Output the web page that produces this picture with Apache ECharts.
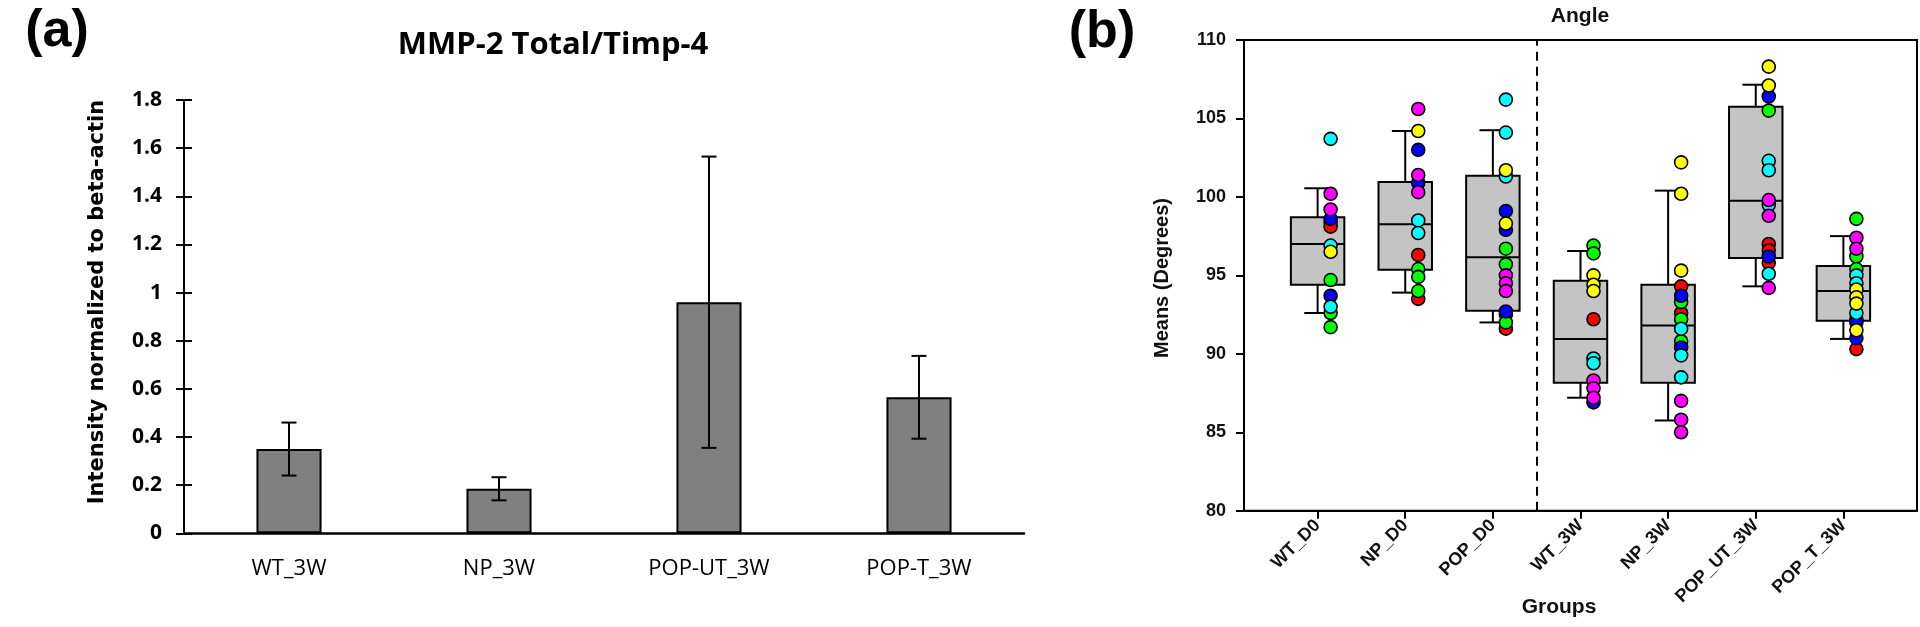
<!DOCTYPE html>
<html>
<head>
<meta charset="utf-8">
<title>MMP-2 Total/Timp-4 and Angle</title>
<script src="https://cdn.jsdelivr.net/npm/echarts@6.0.0/dist/echarts.min.js"></script>
<style>
  html, body { margin: 0; padding: 0; background: #fff; }
  #main { width: 1920px; height: 627px; }
</style>
</head>
<body>
<div id="main"></div>
<script>
// (a) bar chart data
var barGroups = ['WT_3W', 'NP_3W', 'POP-UT_3W', 'POP-T_3W'];
var barMeans = [0.35, 0.185, 0.96, 0.565];
var barErr = [0.11, 0.048, 0.605, 0.172];

// (b) box plot data: [min, q1, median, q3, max]
var boxGroups = ['WT_D0', 'NP_D0', 'POP_D0', 'WT_3W', 'NP_3W', 'POP_UT_3W', 'POP_T_3W'];
var boxStats = [
  [92.6, 94.4, 97.0, 98.7, 100.55],
  [93.9, 95.35, 98.25, 100.95, 104.2],
  [92.0, 92.75, 96.15, 101.35, 104.25],
  [87.2, 88.15, 90.95, 94.65, 96.55],
  [85.75, 88.15, 91.8, 94.4, 100.4],
  [94.3, 96.1, 99.75, 105.75, 107.15],
  [90.95, 92.1, 94.0, 95.6, 97.5]
];

// individual points, [group index, degrees], one list per colour
var redPts = [[0, 98.4], [0, 98.1], [1, 96.3], [1, 93.5], [2, 92.5], [2, 91.6], [3, 92.2],
  [4, 94.3], [4, 92.6], [5, 97.0], [5, 96.6], [5, 95.8], [6, 92.2], [6, 90.3]];
var greenPts = [[0, 94.7], [0, 92.6], [0, 91.7], [1, 95.4], [1, 94.9], [1, 94.0], [2, 96.7], [2, 95.7], [2, 92.0],
  [3, 96.9], [3, 96.4], [4, 93.3], [4, 92.2], [4, 90.8], [5, 105.5], [6, 98.6], [6, 96.2], [6, 95.4]];
var bluePts = [[0, 98.6], [0, 93.7], [1, 103.0], [1, 100.9], [2, 99.1], [2, 97.9], [2, 92.7], [3, 86.9],
  [4, 93.7], [4, 90.4], [5, 106.4], [5, 96.2], [6, 92.0], [6, 91.0]];
var cyanPts = [[0, 103.7], [0, 96.9], [0, 93.0], [1, 98.5], [1, 97.7], [2, 106.2], [2, 104.1], [2, 101.3],
  [3, 89.7], [3, 89.4], [4, 91.6], [4, 89.9], [4, 88.5], [5, 102.3], [5, 101.7], [5, 99.5], [5, 95.1],
  [6, 95.0], [6, 94.5], [6, 92.6]];
var magentaPts = [[0, 100.2], [0, 99.2], [1, 105.6], [1, 101.4], [1, 100.3], [2, 95.0], [2, 94.5], [2, 94.0],
  [3, 88.3], [3, 87.8], [3, 87.2], [4, 87.0], [4, 85.8], [4, 85.0], [5, 99.8], [5, 98.8], [5, 94.2],
  [6, 97.4], [6, 96.7]];
var yellowPts = [[0, 96.5], [1, 104.2], [2, 101.7], [2, 98.3], [3, 95.0], [3, 94.4], [3, 94.0],
  [4, 102.2], [4, 100.2], [4, 95.3], [5, 108.3], [5, 107.1], [6, 94.1], [6, 93.6], [6, 93.2], [6, 91.5]];

var myChart = echarts.init(document.getElementById('main'));

var boldArial = 'Liberation Sans, Arial, sans-serif';
var calibri = 'Open Sans, Noto Sans, sans-serif';

// error bars for the bar chart
function renderErr(params, api) {
  var x = api.value(0);
  var lo = api.coord([x, api.value(1)]);
  var hi = api.coord([x, api.value(2)]);
  var cap = 7.5;
  var st = { stroke: '#000', lineWidth: 2 };
  return {
    type: 'group',
    children: [
      { type: 'line', shape: { x1: lo[0], y1: lo[1], x2: hi[0], y2: hi[1] }, style: st },
      { type: 'line', shape: { x1: lo[0] - cap, y1: lo[1], x2: lo[0] + cap, y2: lo[1] }, style: st },
      { type: 'line', shape: { x1: hi[0] - cap, y1: hi[1], x2: hi[0] + cap, y2: hi[1] }, style: st }
    ]
  };
}

// box + whiskers
function renderBox(params, api) {
  var x = api.value(0);
  var lo = api.coord([x, api.value(1)]);
  var q1 = api.coord([x, api.value(2)]);
  var med = api.coord([x, api.value(3)]);
  var q3 = api.coord([x, api.value(4)]);
  var hi = api.coord([x, api.value(5)]);
  var half = api.size([0.61, 0])[0] / 2;
  var cap = half / 2;
  var st = { stroke: '#000', lineWidth: 2 };
  return {
    type: 'group',
    children: [
      { type: 'line', shape: { x1: lo[0], y1: lo[1], x2: q1[0], y2: q1[1] }, style: st },
      { type: 'line', shape: { x1: q3[0], y1: q3[1], x2: hi[0], y2: hi[1] }, style: st },
      { type: 'line', shape: { x1: lo[0] - cap, y1: lo[1], x2: lo[0] + cap, y2: lo[1] }, style: st },
      { type: 'line', shape: { x1: hi[0] - cap, y1: hi[1], x2: hi[0] + cap, y2: hi[1] }, style: st },
      { type: 'rect', shape: { x: q3[0] - half, y: q3[1], width: half * 2, height: q1[1] - q3[1] },
        style: { fill: '#c4c4c4', stroke: '#000', lineWidth: 2 } },
      { type: 'line', shape: { x1: med[0] - half, y1: med[1], x2: med[0] + half, y2: med[1] }, style: st }
    ]
  };
}

function dots(name, data, color) {
  return {
    name: name,
    type: 'scatter',
    xAxisIndex: 1,
    yAxisIndex: 1,
    data: data,
    symbol: 'circle',
    symbolSize: 13,
    symbolOffset: [13, 0],
    z: 5,
    itemStyle: { color: color, borderColor: '#000', borderWidth: 1.6, opacity: 1 }
  };
}

var groupTicks = boxGroups.map(function (g, i) { return i; });

var option = {
  backgroundColor: '#fff',
  animation: false,
  graphic: [
    { type: 'text', x: 57, y: 32, style: { text: '(a)', font: 'bold 52px ' + boldArial, fill: '#000', align: 'center', verticalAlign: 'middle' } },
    { type: 'text', x: 1102, y: 33, style: { text: '(b)', font: 'bold 52px ' + boldArial, fill: '#000', align: 'center', verticalAlign: 'middle' } },
    { type: 'text', x: 553, y: 45, style: { text: 'MMP-2 Total/Timp-4', font: 'bold 31px ' + calibri, fill: '#000', align: 'center', verticalAlign: 'middle' } },
    { type: 'text', x: 98, y: 302, rotation: Math.PI / 2,
      style: { text: 'Intensity normalized to beta-actin', font: 'bold 21px DejaVu Sans, sans-serif', fill: '#000', align: 'center', verticalAlign: 'middle' } },
    { type: 'text', x: 1580, y: 16, style: { text: 'Angle', font: 'bold 21px ' + boldArial, fill: '#111', align: 'center', verticalAlign: 'middle' } },
    { type: 'text', x: 1162, y: 278, rotation: Math.PI / 2,
      style: { text: 'Means (Degrees)', font: 'bold 20px ' + boldArial, fill: '#111', align: 'center', verticalAlign: 'middle' } },
    { type: 'text', x: 1559, y: 607, style: { text: 'Groups', font: 'bold 21px ' + boldArial, fill: '#111', align: 'center', verticalAlign: 'middle' } }
  ],
  grid: [
    { left: 184, top: 100, width: 840, height: 433.3 },
    { left: 1244, top: 40, width: 673, height: 470.7, show: true, borderColor: '#000', borderWidth: 2, backgroundColor: 'transparent' }
  ],
  xAxis: [
    {
      type: 'category',
      gridIndex: 0,
      data: barGroups,
      boundaryGap: true,
      axisLine: { lineStyle: { color: '#000', width: 2.5 } },
      axisTick: { show: false },
      axisLabel: { color: '#000', fontSize: 22, fontFamily: calibri, margin: 24 }
    },
    {
      type: 'value',
      gridIndex: 1,
      min: -0.84,
      max: 6.84,
      splitLine: { show: false },
      axisLine: { onZero: false, lineStyle: { color: '#000', width: 2 } },
      axisTick: { show: true, customValues: groupTicks, length: 8, lineStyle: { color: '#000', width: 2 } },
      axisLabel: {
        customValues: groupTicks,
        rotate: 45,
        margin: 12,
        color: '#111',
        fontSize: 18,
        fontWeight: 'bold',
        fontFamily: boldArial,
        formatter: function (v) { return boxGroups[Math.round(v)]; }
      }
    }
  ],
  yAxis: [
    {
      type: 'value',
      gridIndex: 0,
      min: 0,
      max: 1.8,
      interval: 0.2,
      splitLine: { show: false },
      axisLine: { show: true, lineStyle: { color: '#000', width: 2 } },
      axisTick: { show: true, length: 8, lineStyle: { color: '#000', width: 2 } },
      axisLabel: { color: '#000', fontSize: 21, fontWeight: 'bold', fontFamily: calibri, margin: 22 }
    },
    {
      type: 'value',
      gridIndex: 1,
      min: 80,
      max: 110,
      interval: 5,
      splitLine: { show: false },
      axisLine: { show: true, onZero: false, lineStyle: { color: '#000', width: 2 } },
      axisTick: { show: true, length: 8, lineStyle: { color: '#000', width: 2 } },
      axisLabel: { color: '#111', fontSize: 18, fontWeight: 'bold', fontFamily: boldArial, margin: 18 }
    },
    {
      // inner half of the crossing ticks on (a)
      type: 'value',
      gridIndex: 0,
      position: 'left',
      offset: 0,
      min: 0,
      max: 1.8,
      interval: 0.2,
      splitLine: { show: false },
      axisLine: { show: true, onZero: false, lineStyle: { color: '#000', width: 2 } },
      axisTick: { show: true, inside: true, length: 8, lineStyle: { color: '#000', width: 2 } },
      axisLabel: { show: false }
    }
  ],
  series: [
    {
      name: 'MMP-2 Total/Timp-4',
      type: 'bar',
      xAxisIndex: 0,
      yAxisIndex: 0,
      data: barMeans,
      barWidth: '31%',
      itemStyle: { color: '#808080', borderColor: '#000', borderWidth: 2 }
    },
    {
      name: 'error',
      type: 'custom',
      xAxisIndex: 0,
      yAxisIndex: 0,
      renderItem: renderErr,
      z: 4,
      data: barMeans.map(function (m, i) { return [i, m - barErr[i], m + barErr[i]]; })
    },
    {
      name: 'boxes',
      type: 'custom',
      xAxisIndex: 1,
      yAxisIndex: 1,
      renderItem: renderBox,
      z: 2,
      encode: { x: 0, y: [1, 2, 3, 4, 5] },
      data: boxStats.map(function (s, i) { return [i].concat(s); }),
      markLine: {
        silent: true,
        symbol: 'none',
        label: { show: false },
        lineStyle: { color: '#000', type: [9, 6], width: 2 },
        data: [{ xAxis: 2.5 }]
      }
    },
    dots('red', redPts, '#ff0000'),
    dots('green', greenPts, '#00ff00'),
    dots('blue', bluePts, '#0000ff'),
    dots('cyan', cyanPts, '#00ffff'),
    dots('magenta', magentaPts, '#ff00ff'),
    dots('yellow', yellowPts, '#ffff00')
  ]
};

myChart.setOption(option);
</script>
</body>
</html>
